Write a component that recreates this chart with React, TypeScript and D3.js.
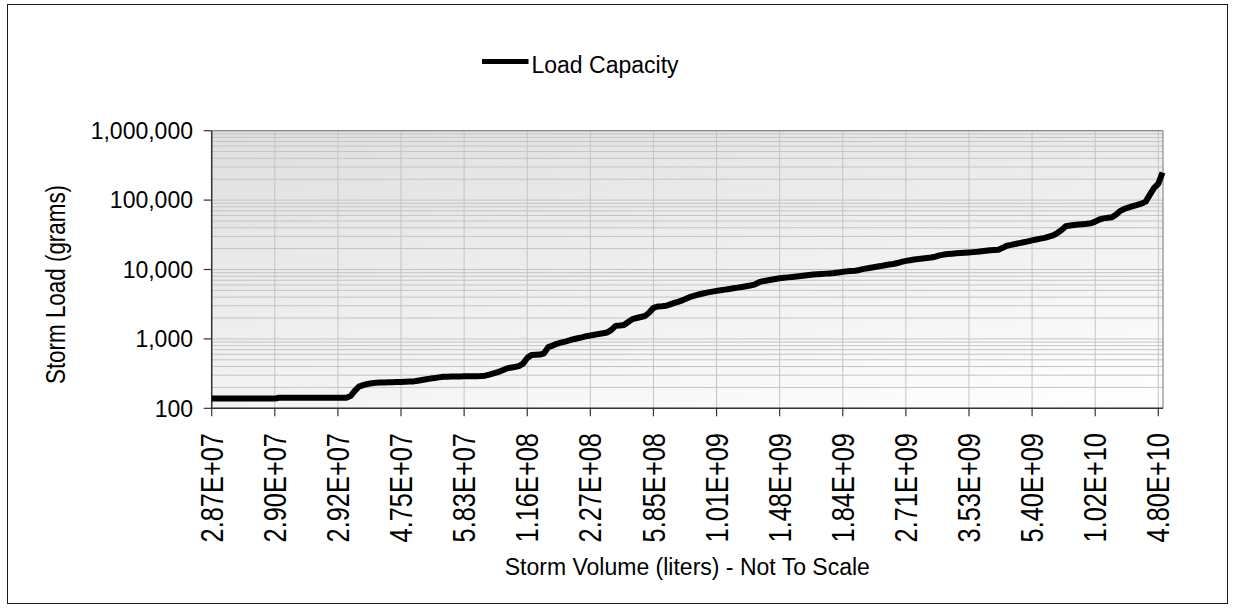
import React from "react";
import * as d3 from "d3";

// ---- data ----
const tickLabels = [
  "2.87E+07", "2.90E+07", "2.92E+07", "4.75E+07", "5.83E+07", "1.16E+08",
  "2.27E+08", "5.85E+08", "1.01E+09", "1.48E+09", "1.84E+09", "2.71E+09",
  "3.53E+09", "5.40E+09", "1.02E+10", "4.80E+10",
];
// one tick label every `labelStep` categories
const labelStep = 15;

const yTickValues = [100, 1000, 10000, 100000, 1000000];

const loadValues = [
  138, 138, 138, 138, 138, 138, 138, 138, 138, 138, 138, 138, 138, 138, 138, 138,
  142, 142, 142, 142, 142, 142, 142, 142, 142, 142, 142, 142, 142, 142, 142, 142, 142,
  150, 178, 205, 216, 224, 229, 233, 235, 236, 237, 238, 239, 240, 242, 243, 244,
  250, 256, 262, 268, 273, 279, 285, 286, 287, 288, 288, 289, 289, 290, 290, 291,
  295, 305, 318, 332, 350, 372, 385, 394, 405, 440, 530, 586, 590, 595, 620,
  760, 800, 850, 885, 915, 950, 990, 1020, 1050, 1095, 1120, 1150, 1180, 1205, 1235,
  1350, 1540, 1560, 1590, 1750, 1930, 2000, 2070, 2140, 2400, 2800, 2930, 2960, 3000,
  3150, 3300, 3450, 3620, 3850, 4080, 4250, 4400, 4550, 4680, 4800, 4920, 5030, 5130,
  5240, 5360, 5480, 5600, 5740, 5880, 6050, 6500, 6780, 6950, 7120, 7300, 7470, 7600,
  7700, 7820, 7950, 8060, 8180, 8320, 8450, 8560, 8640, 8720, 8790, 8880, 9050, 9250,
  9400, 9500, 9600, 9850, 10200, 10450, 10700, 10950, 11200, 11500, 11800, 12000,
  12400, 12900, 13300, 13600, 13900, 14150, 14400, 14650, 14900, 15300, 16000, 16400,
  16700, 16900, 17100, 17300, 17450, 17600, 17800, 18000, 18300, 18600, 18900, 19100,
  19300, 20500, 22000, 22600, 23300, 24000, 24700, 25400, 26300, 27000, 27800, 28600,
  29800, 31000, 33500, 37000, 42000, 43000, 43800, 44500, 45000, 45500, 46300, 49000,
  52500, 54500, 55500, 56500, 62000, 70000, 75000, 78500, 82000, 85500, 89000, 95000,
  120000, 150000, 172000, 250000,
];

const FONT = "'Liberation Sans', Arial, Helvetica, sans-serif";

export default function App() {
  const W = 1235;
  const H = 608;
  const left = 211.7;
  const right = 1163;
  const top = 130.7;
  const bottom = 408.3;

  const x = d3
    .scaleLinear()
    .domain([0, labelStep * (tickLabels.length - 1)])
    .range([left, 1158.3]);
  const y = d3.scaleLog().domain([100, 1000000]).range([bottom, top]);

  const gridValues = y.ticks();
  const line = d3
    .line<number>()
    .x((_, i) => x(i))
    .y((d) => y(d));

  const fmt = d3.format(",");
  const labelIdx = tickLabels.map((_, i) => i * labelStep);

  return (
    <div style={{ position: "absolute", left: 0, top: 0 }}>
      <svg width={W} height={H} style={{ display: "block", fontFamily: FONT }}>
        <defs>
          <linearGradient
            id="bg"
            gradientUnits="userSpaceOnUse"
            x1={left}
            y1={top}
            x2={left + 70}
            y2={top + 423}
          >
            <stop offset="0" stopColor="#dfdfdf" />
            <stop offset="1" stopColor="#ffffff" />
          </linearGradient>
        </defs>
        <rect x={0} y={0} width={W} height={H} fill="#ffffff" />
        <rect
          x={7.5}
          y={4.5}
          width={1220}
          height={599}
          fill="#ffffff"
          stroke="#1a1a1a"
          strokeWidth={1}
        />

        {/* plot area */}
        <rect x={left} y={top} width={right - left} height={bottom - top} fill="url(#bg)" />

        {/* horizontal grid (major + minor) */}
        {gridValues.map((v, i) => (
          <line
            key={"h" + i}
            x1={left}
            x2={right}
            y1={y(v)}
            y2={y(v)}
            stroke="#c4c4c4"
            strokeWidth={1}
          />
        ))}
        {/* vertical grid */}
        {labelIdx.map((ci, i) => (
          <line
            key={"v" + i}
            x1={x(ci)}
            x2={x(ci)}
            y1={top}
            y2={bottom}
            stroke="#c4c4c4"
            strokeWidth={1}
          />
        ))}

        {/* plot border top / right */}
        <line x1={left} x2={right} y1={top} y2={top} stroke="#8a8a8a" strokeWidth={1.2} />
        <line x1={right} x2={right} y1={top} y2={bottom} stroke="#8a8a8a" strokeWidth={1.2} />

        {/* axes */}
        <line x1={left} x2={left} y1={top} y2={bottom} stroke="#333" strokeWidth={1.5} />
        <line x1={left} x2={right} y1={bottom} y2={bottom} stroke="#333" strokeWidth={1.5} />

        {/* y ticks & labels */}
        {yTickValues.map((v, i) => (
          <g key={"yt" + i}>
            <line x1={left - 8} x2={left} y1={y(v)} y2={y(v)} stroke="#333" strokeWidth={1.2} />
            <text
              x={193}
              y={y(v) + 8.3}
              textAnchor="end"
              fontSize={23}
              fill="#000"
            >
              {fmt(v)}
            </text>
          </g>
        ))}

        {/* x ticks & labels */}
        {labelIdx.map((ci, i) => (
          <g key={"xt" + i}>
            <line x1={x(ci)} x2={x(ci)} y1={bottom} y2={bottom + 8} stroke="#333" strokeWidth={1.2} />
            <text
              transform={`translate(${x(ci) + 11.1},433) rotate(-90) scale(0.82,1)`}
              textAnchor="end"
              fontSize={31}
              fill="#000"
            >
              {tickLabels[i]}
            </text>
          </g>
        ))}

        {/* data line */}
        <path
          d={line(loadValues) || ""}
          fill="none"
          stroke="#000"
          strokeWidth={6}
          strokeLinejoin="round"
          strokeLinecap="butt"
        />

        {/* axis titles */}
        <text
          transform={`translate(64.5,${(top + bottom) / 2 + 15}) rotate(-90) scale(0.8,1)`}
          textAnchor="middle"
          fontSize={28}
          fill="#000"
        >
          Storm Load (grams)
        </text>
        <text x={(left + right) / 2} y={575} textAnchor="middle" fontSize={23} fill="#000">
          Storm Volume (liters) - Not To Scale
        </text>

        {/* legend */}
        <line x1={482} x2={528.5} y1={61.5} y2={61.5} stroke="#000" strokeWidth={5} />
        <text x={531.5} y={73.3} fontSize={23} fill="#000">
          Load Capacity
        </text>
      </svg>
    </div>
  );
}
